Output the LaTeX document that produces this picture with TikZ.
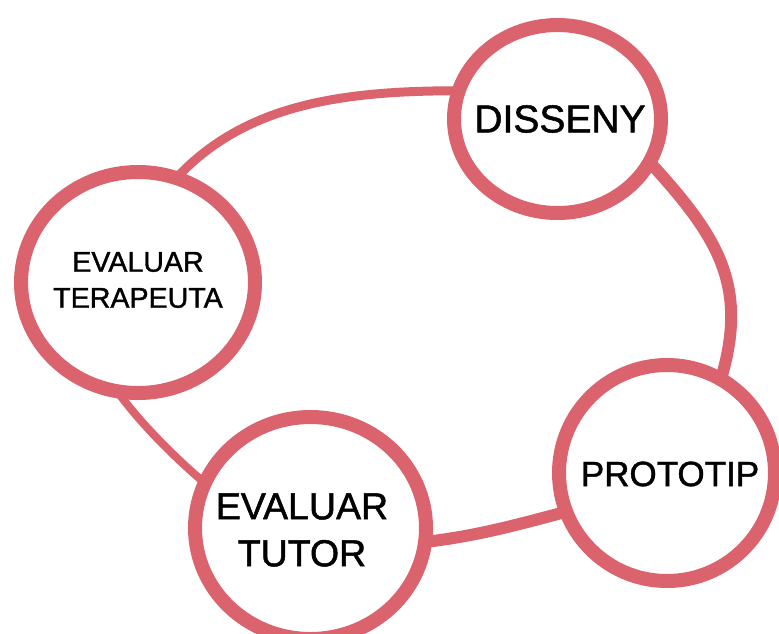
\documentclass[tikz,border=0pt]{standalone}
\usepackage{fontspec}
\setmainfont{Liberation Sans}
\newfontfamily\stagefont{Liberation Sans}[FakeBold=1.3]
\usetikzlibrary{shapes.geometric,backgrounds}
\definecolor{ringred}{RGB}{218,99,109}
\begin{document}
\begin{tikzpicture}[x=1pt,y=-1pt,
  stage/.style={ellipse, draw=ringred, line width=14pt, fill=white,
    inner sep=0pt, outer sep=0pt},
  caption/.style={text=black, align=center, inner sep=0pt},
  link/.style={draw=ringred, line width=10pt,
    shorten <=-10pt, shorten >=-10pt}]
\useasboundingbox (0,0) rectangle (779,633);

% the four stages of the cycle
\node[stage, minimum width=234pt, minimum height=221pt,
  label={[caption, font=\stagefont\fontsize{28.6}{36}\selectfont, yshift=2.5pt]center:{EVALUAR\\TERAPEUTA}}]
  (ter) at (138,282.5) {};
\node[stage, minimum width=207pt, minimum height=188pt,
  label={[caption, font=\stagefont\fontsize{39}{47}\selectfont, xshift=2.5pt]center:DISSENY}]
  (dis) at (557.5,119) {};
\node[stage, minimum width=216pt, minimum height=216pt,
  label={[caption, font=\stagefont\fontsize{35}{42}\selectfont, xshift=3pt, yshift=-1pt]center:PROTOTIP}]
  (pro) at (667,473) {};
\node[stage, minimum width=231pt, minimum height=222pt,
  label={[caption, font=\stagefont\fontsize{37.5}{47}\selectfont, xshift=-8.5pt, yshift=-2pt]center:{EVALUAR\\TUTOR}}]
  (tut) at (310.5,528) {};

% the loop joining the stages, kept behind the rings
\begin{scope}[on background layer]
  \draw[link, line width=9pt] (ter.70) .. controls (240,104) and (340,90) .. (dis.164.5);
  \draw[link, line width=12pt] (dis.-25.3) .. controls (718,236) and (752,285) .. (pro.60.6);
  \draw[link, line width=12pt] (pro.201.4) .. controls (520,524) and (475,537) .. (tut.-7);
  \draw[link, line width=8pt] (tut.157.9) .. controls (179,462) and (137,421) .. (ter.259.6);
\end{scope}
\end{tikzpicture}
\end{document}
